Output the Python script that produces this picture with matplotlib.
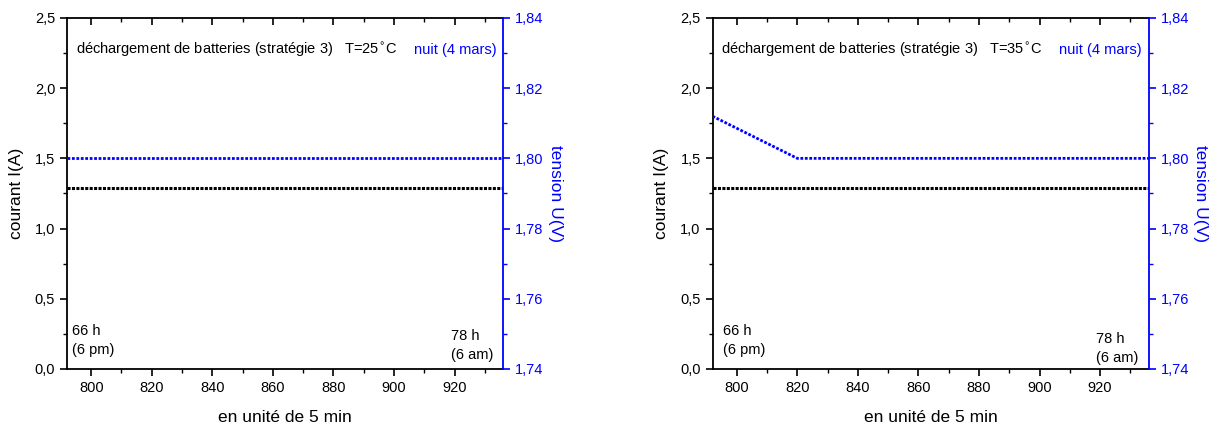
import numpy as np
import matplotlib.pyplot as plt
from matplotlib.ticker import MultipleLocator, FuncFormatter

plt.rcParams['font.family'] = ['Liberation Sans', 'DejaVu Sans']

# data (x in units of 5 min)
x_night = [792, 936]
courant = [1.29, 1.29]

x_u25 = [792, 936]
tension_25 = [1.80, 1.80]

x_u35 = [792, 820, 936]
tension_35 = [1.812, 1.80, 1.80]

temperatures = ['25', '35']
xticks = [800, 820, 840, 860, 880, 900, 920]

BLUE = '#0000ff'


def comma(fmt):
    return FuncFormatter(lambda v, pos: (fmt % v).replace('.', ','))


def make_panel(fig, rect, temp, xu, u):
    ax = fig.add_axes(rect)
    ax2 = ax.twinx()

    ax.plot(x_night, courant, color='black', lw=2.2, linestyle=(0, (1, 0.45)))
    ax2.plot(xu, u, color=BLUE, lw=2.0, linestyle=(0, (1, 0.6)))

    ax.set_xlim(792, 936)
    ax.set_ylim(0, 2.5)
    ax2.set_ylim(1.74, 1.84)

    ax.set_xticks(xticks)
    ax.xaxis.set_minor_locator(MultipleLocator(10))
    ax.yaxis.set_major_locator(MultipleLocator(0.5))
    ax.yaxis.set_minor_locator(MultipleLocator(0.25))
    ax.yaxis.set_major_formatter(comma('%.1f'))
    ax2.yaxis.set_major_locator(MultipleLocator(0.02))
    ax2.yaxis.set_minor_locator(MultipleLocator(0.01))
    ax2.yaxis.set_major_formatter(comma('%.2f'))

    ax.tick_params(axis='x', which='both', direction='out', top=True, labelsize=10.5)
    ax.tick_params(axis='x', which='major', length=5, width=1.2)
    ax.tick_params(axis='x', which='minor', length=3, width=1)
    ax.tick_params(axis='y', which='major', length=5, width=1.2, labelsize=10.5)
    ax.tick_params(axis='y', which='minor', length=3, width=1)
    # top ticks point inwards
    for t in ax.xaxis.get_major_ticks() + ax.xaxis.get_minor_ticks():
        t.tick2line.set_marker(3)
    ax2.tick_params(axis='y', which='both', colors=BLUE, labelsize=10.5)
    ax2.tick_params(axis='y', which='major', length=5, width=1.2)
    ax2.tick_params(axis='y', which='minor', length=3, width=1)

    for s in ['left', 'bottom', 'top']:
        ax.spines[s].set_linewidth(1.3)
    ax2.spines['right'].set_color(BLUE)
    ax2.spines['right'].set_linewidth(1.3)
    ax.spines['right'].set_visible(False)
    for s in ['left', 'bottom', 'top']:
        ax2.spines[s].set_visible(False)

    ax.set_xlabel('en unité de 5 min', fontsize=12.5, labelpad=11)
    ax.set_ylabel('courant I(A)', fontsize=12.5, labelpad=8)
    ax2.set_ylabel('tension U(V)', fontsize=12.5, color=BLUE, rotation=270, labelpad=14)

    ax.text(0.02, 0.91, 'déchargement de batteries (stratégie 3)   T=%s$^{\\circ}$C' % temp,
            transform=ax.transAxes, fontsize=10.5, va='center', ha='left')
    ax.text(0.985, 0.91, 'nuit (4 mars)', color=BLUE, transform=ax.transAxes,
            fontsize=10.5, va='center', ha='right')
    ax.text(0.012 if temp == '25' else 0.025, 0.035, '66 h\n(6 pm)',
            transform=ax.transAxes, fontsize=10.5, va='bottom', ha='left', linespacing=1.45)
    ax.text(0.88, 0.02 if temp == '25' else 0.01, '78 h\n(6 am)',
            transform=ax.transAxes, fontsize=10.5, va='bottom', ha='left', linespacing=1.45)
    return ax


fig = plt.figure(figsize=(12.18, 4.28), dpi=100)
make_panel(fig, [0.055, 0.138, 0.358, 0.82], temperatures[0], x_u25, tension_25)
make_panel(fig, [0.585, 0.138, 0.358, 0.82], temperatures[1], x_u35, tension_35)

fig.savefig('out.png', dpi=100)
